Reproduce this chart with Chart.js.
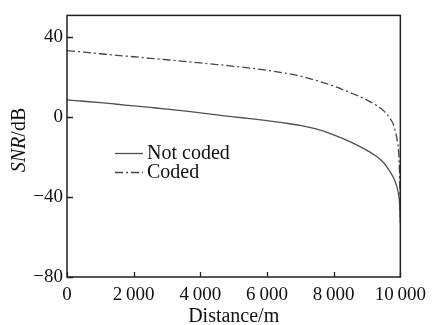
<!DOCTYPE html>
<html>
<head>
<meta charset="utf-8">
<script src="https://cdn.jsdelivr.net/npm/chart.js@4"></script>
<style>
html,body{margin:0;padding:0;background:#fff;}
#wrap{width:433px;height:325px;position:relative;}
</style>
</head>
<body>
<div id="wrap"><canvas id="c" width="433" height="325"></canvas></div>
<script>
const distance = [0,500,1000,1500,2000,2500,3000,3500,4000,4500,5000,5500,6000,6500,7000,7500,8000,8500,9000,9300,9500,9700,9800,9900,9950,9980,10000];
const notCoded = [8.7,8.0,7.3,6.5,5.7,4.9,4.1,3.2,2.2,1.2,0.2,-0.7,-1.7,-2.8,-4.1,-6.0,-8.8,-12.3,-16.6,-19.8,-22.8,-27.5,-30.5,-35,-39,-44,-53];
const coded = [33.4,32.6,31.8,31.0,30.3,29.5,28.8,28.0,27.2,26.4,25.5,24.6,23.5,22.2,20.6,18.3,15.6,12.3,8.6,5.7,3.2,-0.8,-4,-11,-18,-30,-50];
const xTicks = [0,2000,4000,6000,8000,10000];
const yTicks = [-80,-40,0,40];
const seriesNames = ["Not coded","Coded"];
const xTitle = "Distance/m";

const SERIF = '"Liberation Serif","Times New Roman",serif';
function fmtX(v){ return v >= 1000 ? Math.floor(v/1000) + '\u2009' + String(v%1000).padStart(3,'0') : String(v); }
function fmtY(v){ return v < 0 ? '\u2212' + Math.abs(v) : String(v); }

const deco = {
  id:'deco',
  afterDraw(chart){
    const ctx = chart.ctx, a = chart.chartArea;
    const xs = chart.scales.x, ys = chart.scales.y;
    ctx.save();
    ctx.strokeStyle = '#222'; ctx.lineWidth = 1.5;
    ctx.strokeRect(a.left, a.top, a.right - a.left, a.bottom - a.top);
    ctx.lineWidth = 1.3;
    ctx.beginPath();
    xTicks.forEach(v => { const p = Math.round(xs.getPixelForValue(v)) + 0.5; ctx.moveTo(p, a.bottom); ctx.lineTo(p, a.bottom - 5); });
    yTicks.forEach(v => { const p = Math.round(ys.getPixelForValue(v)) + 0.5; ctx.moveTo(a.left, p); ctx.lineTo(a.left + 6, p); });
    ctx.stroke();
    // x title
    ctx.fillStyle = '#111';
    ctx.font = '20px ' + SERIF;
    ctx.textAlign = 'center'; ctx.textBaseline = 'alphabetic';
    ctx.fillText(xTitle, (a.left + a.right)/2, 322);
    // y title: SNR italic + /dB
    ctx.save();
    ctx.translate(25, 140);
    ctx.rotate(-Math.PI/2);
    ctx.font = 'italic 20px ' + SERIF;
    const w1 = ctx.measureText('SNR').width;
    ctx.font = '20px ' + SERIF;
    const w2 = ctx.measureText('/dB').width;
    let x0 = -(w1 + w2)/2;
    ctx.textAlign = 'left';
    ctx.font = 'italic 20px ' + SERIF;
    ctx.fillText('SNR', x0, 0);
    ctx.font = '20px ' + SERIF;
    ctx.fillText('/dB', x0 + w1, 0);
    ctx.restore();
    // legend
    const items = [
      {y:153, ds: chart.data.datasets[0]},
      {y:172, ds: chart.data.datasets[1]}
    ];
    items.forEach(it => {
      ctx.strokeStyle = it.ds.borderColor; ctx.lineWidth = it.ds.borderWidth;
      ctx.setLineDash(it.ds.borderDash || []);
      ctx.beginPath(); ctx.moveTo(115, it.y + 0.5); ctx.lineTo(143, it.y + 0.5); ctx.stroke();
      ctx.setLineDash([]);
      ctx.fillStyle = '#111';
      ctx.font = '20px ' + SERIF;
      ctx.textAlign = 'left'; ctx.textBaseline = 'middle';
      ctx.fillText(it.ds.label, 147, it.y + 1);
    });
    ctx.restore();
  }
};

new Chart(document.getElementById('c'), {
  type: 'line',
  data: {
    datasets: [
      { label: seriesNames[0], data: distance.map((d,i)=>({x:d,y:notCoded[i]})), borderColor:'#505050', borderWidth:1.3, pointRadius:0, cubicInterpolationMode:'monotone', fill:false },
      { label: seriesNames[1], data: distance.map((d,i)=>({x:d,y:coded[i]})), borderColor:'#454545', borderWidth:1.3, borderDash:[8,3,2,3], pointRadius:0, cubicInterpolationMode:'monotone', fill:false }
    ]
  },
  options: {
    responsive:false, animation:false,
    layout:{ padding:{ top:12, right:25, left:0, bottom:0 } },
    plugins:{ legend:{display:false}, tooltip:{enabled:false} },
    scales:{
      x:{
        type:'linear', min:0, max:10000,
        afterBuildTicks(s){ s.ticks = xTicks.map(v=>({value:v})); },
        afterFit(s){ s.height = 48; },
        grid:{ display:false, drawTicks:false },
        border:{ display:false },
        ticks:{ font:{ family:SERIF, size:19 }, color:'#111', padding:7, maxRotation:0, autoSkip:false, callback:(v)=>fmtX(v) }
      },
      y:{
        type:'linear', min:-80, max:51,
        afterBuildTicks(s){ s.ticks = yTicks.map(v=>({value:v})); },
        afterFit(s){ s.width = 67; },
        grid:{ display:false, drawTicks:false },
        border:{ display:false },
        ticks:{ font:{ family:SERIF, size:19 }, color:'#111', padding:4, autoSkip:false, callback:(v)=>fmtY(v) }
      }
    }
  },
  plugins:[deco]
});
</script>
</body>
</html>
